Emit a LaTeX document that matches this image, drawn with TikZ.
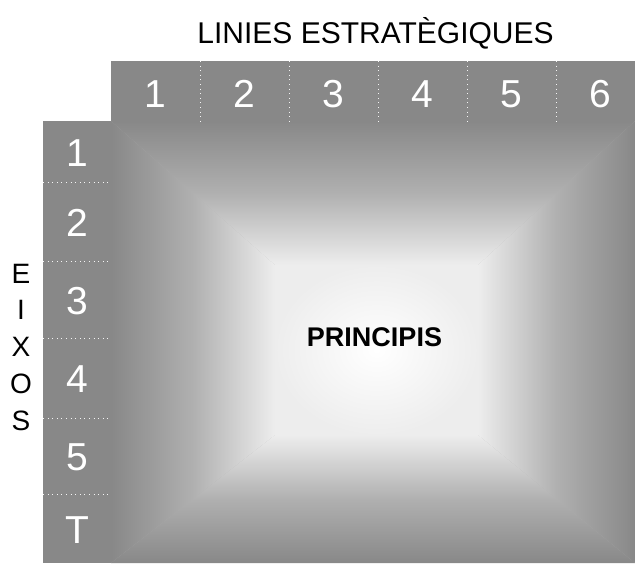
\documentclass[tikz,border=0pt]{standalone}
\usepackage{fontspec}
\setmainfont{Liberation Sans}
\usepackage{tikz}

\definecolor{bandgray}{gray}{0.533}
\definecolor{midgray}{gray}{0.69}
\definecolor{innergray}{gray}{0.93}
\pgfdeclareradialshading{centreglow}{\pgfpoint{0bp}{0bp}}{color(0bp)=(white); color(25bp)=(innergray); color(50bp)=(innergray)}

\begin{document}
\begin{tikzpicture}[x=1pt, y=-1pt, inner sep=0pt]
        \tikzset{digit/.style={anchor=base, text=white, font=\fontsize{39}{39}\selectfont},
                 heading/.style={anchor=base, font=\fontsize{30}{31}\selectfont}}
        % Dotted separators between the cells
        \tikzstyle{sep line}=[white!92!gray, line width=1pt, dash pattern=on 1pt off 3.6pt]

        \useasboundingbox (0,0) rectangle (635,563);

        % grey bands and shaded field
        \fill[bandgray] (111,61) rectangle (635,121);
        \fill[bandgray] (43,121) rectangle (111,563);
        \fill[gray!60] (111,121) rectangle (635,563);
        \shade[top color=bandgray, bottom color=innergray, middle color=midgray]
            (111,121) -- (635,121) -- (478,265) -- (275,265) -- cycle;
        \shade[top color=innergray, bottom color=bandgray, middle color=midgray]
            (111,563) -- (635,563) -- (478,435) -- (275,435) -- cycle;
        \shade[left color=bandgray, right color=innergray, middle color=midgray]
            (111,121) -- (275,265) -- (275,435) -- (111,563) -- cycle;
        \shade[left color=innergray, right color=bandgray, middle color=midgray]
            (635,121) -- (478,265) -- (478,435) -- (635,563) -- cycle;
        \shade[shading=centreglow] (275,265) rectangle (478,435);

        \node[heading] (title) at (375.5,43) {LINIES ESTRATÈGIQUES};
        \node[font=\bfseries\fontsize{27}{28}\selectfont] (principis) at (374.5,337) {PRINCIPIS};

        \foreach \n in {1,...,6}
            \node[digit] (col_\n) at (66.5+89*\n,107) {\n};
        \foreach \x in {200,289,378,467,556}
            \draw[sep line] (\x,61) -- (\x,121);

        \foreach \t/\y in {1/166,2/236,3/314,4/392.5,5/470.5,T/543}
            \node[digit] (row_\t) at (77,\y) {\t};
        \foreach \y in {182,261,338,418,494}
            \draw[sep line] (43,\y) -- (111,\y);

        \foreach \ch/\y [count=\i] in {E/283,I/319.75,X/356.5,O/393.25,S/430}
            \node[heading, font=\fontsize{28}{30}\selectfont] (eix_\i) at (21,\y) {\ch};
    \end{tikzpicture}
\end{document}
